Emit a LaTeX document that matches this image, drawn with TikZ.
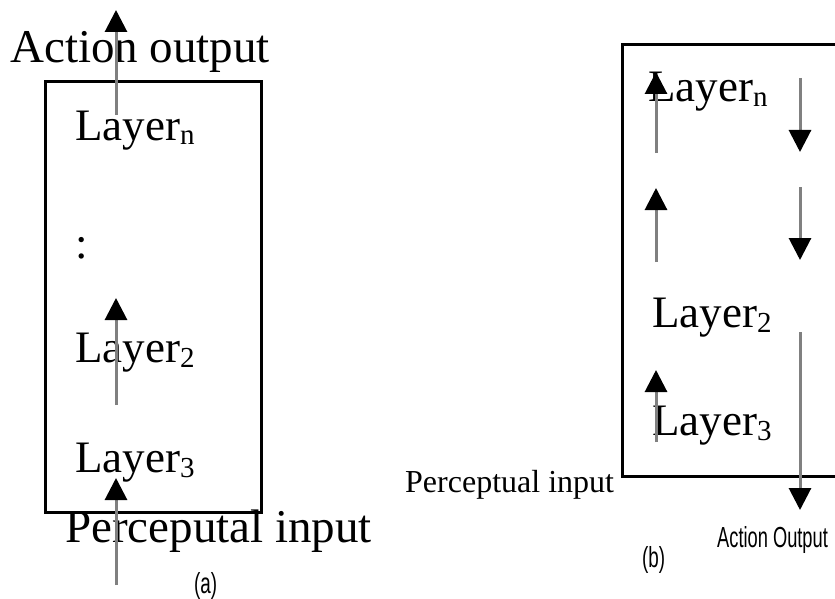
\documentclass[tikz,border=0pt]{standalone}
\usepackage{fontspec}
\setmainfont{Liberation Serif}
\newfontfamily\capfont{Liberation Sans}
\usetikzlibrary{arrows.meta}
% lowered small index after a layer name
\newcommand{\lsub}[1]{\raisebox{-5pt}{\fontsize{29}{29}\selectfont #1}}

\begin{document}
\begin{tikzpicture}[x=1pt,y=-1pt,
  flow/.style={draw=black!50, line width=3pt,
    -{Triangle[width=22pt,length=22pt,color=black]}},
  frame/.style={draw=black, line width=3pt, inner sep=0pt, anchor=north west},
  big/.style={anchor=base west, inner sep=0pt, font=\fontsize{47}{50}\selectfont},
  lay/.style={anchor=base west, inner sep=0pt, font=\fontsize{45}{48}\selectfont},
  small/.style={anchor=base west, inner sep=0pt, font=\fontsize{32}{34}\selectfont},
  tag/.style={anchor=base west, inner sep=0pt, font=\capfont\fontsize{29}{31}\selectfont}]

\useasboundingbox (0,0) rectangle (835,599);

% ---------- (a) layered stack, bottom-up flow ----------
\node[frame, minimum width=216pt, minimum height=431pt] (boxa) at (44,80) {};
\node[big] (aout) at (10,63) {Action output};
\node[lay] (anl) at (75,140) {Layer\lsub{n}};
\node[lay] (adots) at (75,258) {:};
\node[lay] (a2) at (75,362) {Layer\lsub{2}};
\node[lay] (a3) at (75,472) {Layer\lsub{3}};
\node[big] (ain) at (65,542) {Perceputal input};
\node[tag] (alab) at (194,593) {\scalebox{0.65}[1]{(a)}};

\coordinate (a1s) at (116,115);  \coordinate (a1e) at (116,10);
\coordinate (a2s) at (116,405);  \coordinate (a2e) at (116,298);
\coordinate (a3s) at (116,585);  \coordinate (a3e) at (116,478);
\draw[flow] (a1s) -- (a1e);
\draw[flow] (a2s) -- (a2e);
\draw[flow] (a3s) -- (a3e);

% ---------- (b) layered stack, up then down ----------
\node[frame, minimum width=219pt, minimum height=432pt] (boxb) at (621,43) {};
\node[lay] (bnl) at (648,102) {Layer\lsub{n}};
\node[lay] (b2) at (652,327) {Layer\lsub{2}};
\node[lay] (b3) at (652,435) {Layer\lsub{3}};
\node[small] (bin) at (405,492) {Perceptual input};
\node[tag] (bout) at (717,547) {\scalebox{0.63}[1]{Action Output}};
\node[tag] (blab) at (642,567) {\scalebox{0.65}[1]{(b)}};

\coordinate (bu1s) at (656,153); \coordinate (bu1e) at (656,72);
\coordinate (bu2s) at (656,262); \coordinate (bu2e) at (656,188);
\coordinate (bu3s) at (656,442); \coordinate (bu3e) at (656,370);
\coordinate (bd1s) at (800,78);  \coordinate (bd1e) at (800,152);
\coordinate (bd2s) at (800,187); \coordinate (bd2e) at (800,260);
\coordinate (bd3s) at (800,332); \coordinate (bd3e) at (800,510);
\draw[flow] (bu1s) -- (bu1e);
\draw[flow] (bu2s) -- (bu2e);
\draw[flow] (bu3s) -- (bu3e);
\draw[flow] (bd1s) -- (bd1e);
\draw[flow] (bd2s) -- (bd2e);
\draw[flow] (bd3s) -- (bd3e);
\end{tikzpicture}
\end{document}
